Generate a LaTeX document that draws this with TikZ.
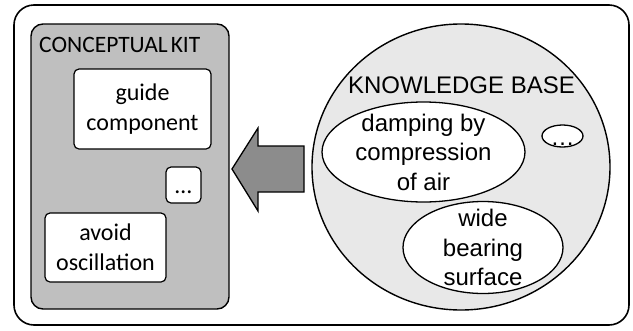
\documentclass[tikz,border=0pt]{standalone}
\usepackage{fontspec}
\setmainfont{Carlito}
\newfontfamily\arialfont{Liberation Sans}
\usetikzlibrary{shapes.geometric}

\definecolor{kitgrey}{HTML}{BFBFBF}
\definecolor{kbgrey}{HTML}{E8E8E8}
\definecolor{arrowgrey}{HTML}{8C8C8C}

\tikzset{
  kitbox/.style={draw, fill=white, rounded corners=5pt, line width=1.2pt,
    inner sep=0pt, align=center, font=\fontsize{24}{29.5}\selectfont},
  kbitem/.style={draw, fill=white, ellipse, line width=1.3pt, inner sep=0pt},
  kbtext/.style={align=center, font=\arialfont\fontsize{24}{29.5}\selectfont},
}

\begin{document}
\begin{tikzpicture}[x=1pt,y=-1pt]
    \useasboundingbox (0,0) rectangle (633,330);
    % outer frame
    \draw[line width=1.6pt, rounded corners=20pt] (14,5) rectangle (629,325);

    % conceptual kit
    \node[draw, fill=kitgrey, rounded corners=12pt, line width=1.4pt,
      minimum width=198pt, minimum height=285pt] (kit) at (130,166.5) {};
    \node[anchor=base west, inner sep=0pt, font=\fontsize{23.5}{27}\selectfont]
      (kittitle) at (39,52) {CONCEPTUAL\hspace{3pt}KIT};
    \node[kitbox, minimum width=137pt, minimum height=80pt] (guide) at (142.5,109) {guide\\component};
    \node[kitbox, minimum width=35pt, minimum height=36pt] (kitmore) at (183.5,185) {};
    \node[anchor=base, inner sep=0pt, font=\fontsize{24}{27}\selectfont] at ([yshift=-8pt]kitmore.center) {…};
    \node[kitbox, minimum width=121pt, minimum height=69pt] (avoid) at (105.5,247.5) {avoid\\oscillation};

    % knowledge base
    \node[draw, ellipse, fill=kbgrey, line width=1.4pt, inner sep=0pt,
      minimum width=298pt, minimum height=286pt] (kb) at (461,167) {};
    \node[kbtext, inner sep=0pt] (kbtitle) at (461.5,85) {KNOWLEDGE BASE};
    \node[kbitem, minimum width=203pt, minimum height=100pt] (damping) at (423.5,152) {};
    \node[kbtext] at (damping) {damping by\\compression\\of air};
    \node[kbitem, minimum width=41pt, minimum height=22pt] (kbmore) at (562.5,136) {};
    \node[kbtext, anchor=base, inner sep=0pt] at ([yshift=-9pt]kbmore.center) {…};
    \node[kbitem, minimum width=160pt, minimum height=92pt] (wide) at (483,247.5) {};
    \node[kbtext] at (wide) {wide\\bearing\\surface};

    % transfer arrow
    \draw[line width=1.3pt, fill=arrowgrey] (304,146) -- (258,146) -- (258,128)
      -- (232,169) -- (258,211) -- (258,192) -- (304,192) -- cycle;
\end{tikzpicture}
\end{document}
